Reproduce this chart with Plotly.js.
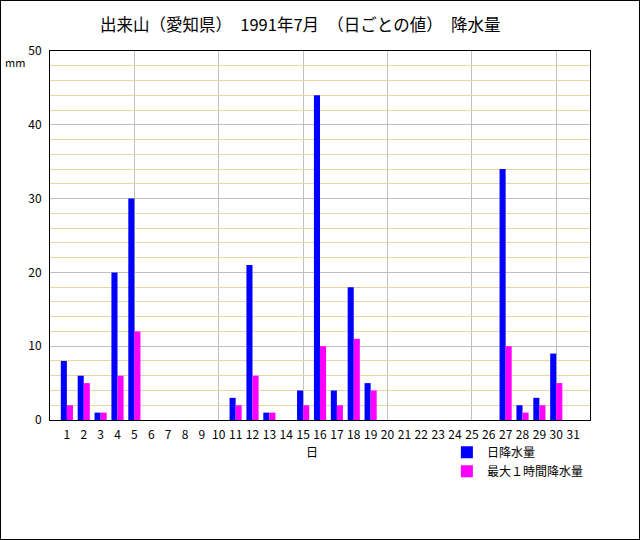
<!DOCTYPE html>
<html><head><meta charset="utf-8">
<script src="https://cdn.plot.ly/plotly-3.0.1.min.js"></script>
<style>html,body{margin:0;padding:0;background:#fff}#c{width:640px;height:540px;box-sizing:border-box;border:1px solid #000}</style>
</head><body><div id="c"></div>
<script>
const days = [1,2,3,4,5,6,7,8,9,10,11,12,13,14,15,16,17,18,19,20,21,22,23,24,25,26,27,28,29,30,31];
const dailyPrecip = [8,6,1,20,30,0,0,0,0,0,3,21,1,0,4,44,4,18,5,0,0,0,0,0,0,0,34,2,3,9,0];
const maxHourly   = [2,5,1,6,12,0,0,0,0,0,2,6,1,0,2,10,2,11,4,0,0,0,0,0,0,0,10,1,2,5,0];
const seriesNames = ['日降水量','最大１時間降水量'];
const titleText = '出来山（愛知県）　1991年7月　（日ごとの値）　降水量';
const F = '"Noto Sans CJK JP", "DejaVu Sans", sans-serif';

const traces = [
  {type:'bar', x:days, y:dailyPrecip, name:seriesNames[0], marker:{color:'#0000ff'}},
  {type:'bar', x:days, y:maxHourly, name:seriesNames[1], marker:{color:'#ff00ff'}}
];
const layout = {
  width:638, height:538,
  margin:{l:49, r:49, t:50, b:119, pad:0},
  paper_bgcolor:'#fff', plot_bgcolor:'#fff',
  font:{family:F, size:12, color:'#000'},
  title:{text:titleText, font:{family:F, size:16.5, color:'#000'}, x:0.469, xanchor:'center', y:0.955, yanchor:'middle'},
  barmode:'group', bargap:0.28, bargroupgap:0,
  showlegend:true,
  legend:{x:0.735, y:-0.048, xanchor:'left', yanchor:'top', bgcolor:'rgba(0,0,0,0)', font:{family:F,size:12}, tracegroupgap:0, itemwidth:30},
  xaxis:{range:[0,32], tickmode:'array', tickvals:days, ticktext:days.map(String), showgrid:false,
    zeroline:false, showline:true, linecolor:'#000', linewidth:1, mirror:true, ticks:'outside', ticklen:4, tickcolor:'rgba(0,0,0,0)',
    tickfont:{family:F,size:12},
    minor:{tickmode:'array', tickvals:[5,10,15,20,25,30], showgrid:true, gridcolor:'#c0c0c0', gridwidth:1, ticks:''}},
  yaxis:{range:[0,50], tickmode:'linear', tick0:0, dtick:10, showgrid:true, gridcolor:'#c0c0c0', gridwidth:1,
    zeroline:false, showline:true, linecolor:'#000', linewidth:1, mirror:true, ticks:'outside', ticklen:5, tickcolor:'rgba(0,0,0,0)',
    tickfont:{family:F,size:12},
    minor:{dtick:2, showgrid:true, gridcolor:'#ecd4a0', gridwidth:1, ticks:''}},
  annotations:[
    {text:'mm', xref:'paper', yref:'paper', x:-0.065, y:0.97, xanchor:'center', yanchor:'middle', showarrow:false, font:{family:F,size:11}},
    {text:'日', xref:'paper', yref:'paper', x:0.485, y:-0.085, xanchor:'center', yanchor:'middle', showarrow:false, font:{family:F,size:12}}
  ]
};
Plotly.newPlot('c', traces, layout, {displayModeBar:false, staticPlot:true});
</script></body></html>
